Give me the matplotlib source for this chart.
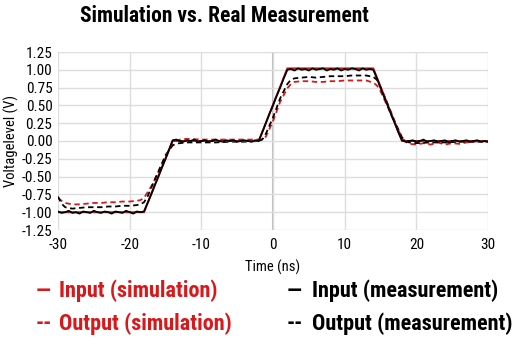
import numpy as np
import matplotlib.pyplot as plt
from matplotlib import font_manager

plt.rcParams['axes.unicode_minus'] = False

names = {f.name for f in font_manager.fontManager.ttflist}
narrow = [n for n in ['Liberation Sans Narrow', 'DejaVu Sans Condensed', 'Roboto Condensed'] if n in names]
fam = narrow + ['DejaVu Sans']

# Input (simulation)
t_in_sim = [-30, -18, -14, -2, 2, 14, 18, 30]
v_in_sim = [-1.0, -1.0, 0.0, 0.0, 1.02, 1.02, 0.0, 0.0]

# Input (measurement), 0.5 ns steps
t_in_meas = np.arange(-30, 30.01, 0.5)
v_in_meas = [
    -0.99, -1.01, -1.00, -0.98, -1.01, -1.00, -1.02, -0.99, -1.00, -1.01,
    -0.98, -1.00, -1.01, -0.99, -1.00, -1.02, -0.99, -1.00, -1.01, -0.98,
    -1.00, -1.02, -0.99, -1.00, -0.99,
    -0.87, -0.75, -0.62, -0.50, -0.37, -0.25, -0.12, 0.01,
    0.02, 0.00, -0.01, 0.01, 0.00, 0.02, -0.01, 0.00, 0.01, -0.01,
    0.00, 0.02, 0.00, -0.01, 0.01, 0.00, 0.01, -0.01, 0.00, 0.01,
    0.00, -0.01, 0.01,
    0.00, 0.12, 0.25, 0.38, 0.50, 0.63, 0.75, 0.88, 1.00,
    1.01, 0.99, 1.02, 1.00, 1.01, 0.99, 1.02, 1.00, 1.01, 1.02,
    0.99, 1.01, 1.00, 1.02, 0.99, 1.01, 1.00, 1.02, 1.01, 0.99,
    1.02, 1.00, 1.01, 1.00,
    0.88, 0.75, 0.62, 0.50, 0.37, 0.25, 0.12, 0.01,
    -0.01, 0.00, 0.01, -0.01, 0.00, 0.02, -0.01, 0.00, 0.01, -0.01,
    0.00, 0.01, -0.02, 0.00, 0.01, -0.01, 0.00, 0.01, -0.01, 0.00,
    0.01, -0.01, 0.00, -0.01,
]

# Output (measurement)
t_out_meas = [-30, -29.5, -29, -28, -27, -26, -25, -24, -23, -22, -21, -20, -19, -18.5,
              -18, -17.5, -17, -16, -15, -14, -13.5, -13, -12, -10, -8, -6, -4, -2,
              -1.5, -1, 0, 1, 2, 2.5, 3, 4, 5, 6, 7, 8, 9, 10, 11, 12, 13, 14,
              14.5, 15, 16, 17, 18, 18.5, 19, 20, 22, 24, 26, 28, 30]
v_out_meas = [-0.78, -0.88, -0.93, -0.95, -0.94, -0.93, -0.93, -0.93, -0.92, -0.92, -0.91, -0.91, -0.90, -0.89,
              -0.86, -0.78, -0.66, -0.43, -0.20, -0.06, -0.04, -0.03, -0.02, -0.02, -0.02, -0.01, -0.01, 0.00,
              0.02, 0.10, 0.33, 0.60, 0.80, 0.86, 0.88, 0.89, 0.90, 0.89, 0.90, 0.91, 0.91, 0.91, 0.92, 0.92, 0.92, 0.90,
              0.86, 0.76, 0.52, 0.27, 0.05, 0.00, -0.02, -0.03, -0.02, -0.02, -0.01, -0.01, -0.01]

# Output (simulation)
t_out_sim = [-30, -29.5, -29, -28, -27, -26, -25, -24, -23, -22, -21, -20, -19, -18.5,
             -18, -17.5, -17, -16, -15, -14, -13.5, -13, -12, -10, -8, -6, -4, -2,
             -1.5, -1, 0, 1, 2, 2.5, 3, 4, 5, 6, 7, 8, 9, 10, 11, 12, 13, 14,
             14.5, 15, 16, 17, 18, 18.5, 19, 20, 21, 22, 23, 24, 25, 26, 27, 28, 29, 30]
v_out_sim = [-0.80, -0.84, -0.87, -0.89, -0.89, -0.88, -0.87, -0.87, -0.86, -0.86, -0.85, -0.85, -0.84, -0.83,
             -0.80, -0.72, -0.64, -0.44, -0.22, -0.05, 0.00, 0.02, 0.03, 0.02, 0.02, 0.02, 0.02, 0.02,
             0.03, 0.06, 0.28, 0.55, 0.74, 0.80, 0.83, 0.84, 0.84, 0.83, 0.83, 0.84, 0.84, 0.85, 0.85, 0.85, 0.85, 0.82,
             0.78, 0.70, 0.48, 0.25, 0.05, -0.01, -0.04, -0.05, -0.03, -0.05, -0.02, -0.05, -0.03, -0.04, -0.02, -0.01, 0.00, -0.01]

x_ticks = [-30, -20, -10, 0, 10, 20, 30]
y_ticks = [-1.25, -1.0, -0.75, -0.5, -0.25, 0.0, 0.25, 0.5, 0.75, 1.0, 1.25]

red = '#d7191c'

fig = plt.figure(figsize=(5.18, 3.45), dpi=100)
ax = fig.add_axes([58 / 518, 1 - 230 / 345, 430 / 518, 178 / 345])

ax.plot(t_out_sim, v_out_sim, color=red, lw=1.3, ls=(0, (3, 2)))
ax.plot(t_out_meas, v_out_meas, color='black', lw=1.3, ls=(0, (3, 2)))
ax.plot(t_in_sim, v_in_sim, color=red, lw=1.4)
ax.plot(t_in_meas, v_in_meas, color='black', lw=1.3)

ax.set_xlim(-30, 30)
ax.set_ylim(-1.25, 1.25)
ax.set_xticks(x_ticks)
ax.set_yticks(y_ticks)
ax.set_yticklabels(['%.2f' % v for v in y_ticks])
ax.grid(True, color='#dddddd', lw=1)
ax.axvline(0, color='#bbbbbb', lw=1.5, zorder=0)
for s in ax.spines.values():
    s.set_visible(False)
ax.tick_params(length=0, labelsize=11)
ax.tick_params(axis='x', pad=6)
ax.tick_params(axis='y', pad=4)
for lab in ax.get_xticklabels() + ax.get_yticklabels():
    lab.set_family(fam)
ax.set_xlabel('Time (ns)', family=fam, fontsize=10.5, labelpad=5)
ax.set_ylabel('Voltagelevel (V)', family=fam, fontsize=10.5, labelpad=2)

fig.text(224 / 518, 1 - 16 / 345, 'Simulation vs. Real Measurement', family=fam,
         fontsize=15.5, fontweight='bold', ha='center', va='center')

rows = [
    (36, 59, 291, '—', 'Input (simulation)', red),
    (36, 59, 324, '--', 'Output (simulation)', red),
    (287, 312, 291, '—', 'Input (measurement)', 'black'),
    (287, 312, 324, '--', 'Output (measurement)', 'black'),
]
for xs, xl, y, sym, lab, c in rows:
    fig.text(xs / 518, 1 - y / 345, sym, family=fam, fontsize=16, fontweight='bold',
             color=c, ha='left', va='center')
    fig.text(xl / 518, 1 - y / 345, lab, family=fam, fontsize=16, fontweight='bold',
             color=c, ha='left', va='center')

fig.savefig('out.png', dpi=100)
